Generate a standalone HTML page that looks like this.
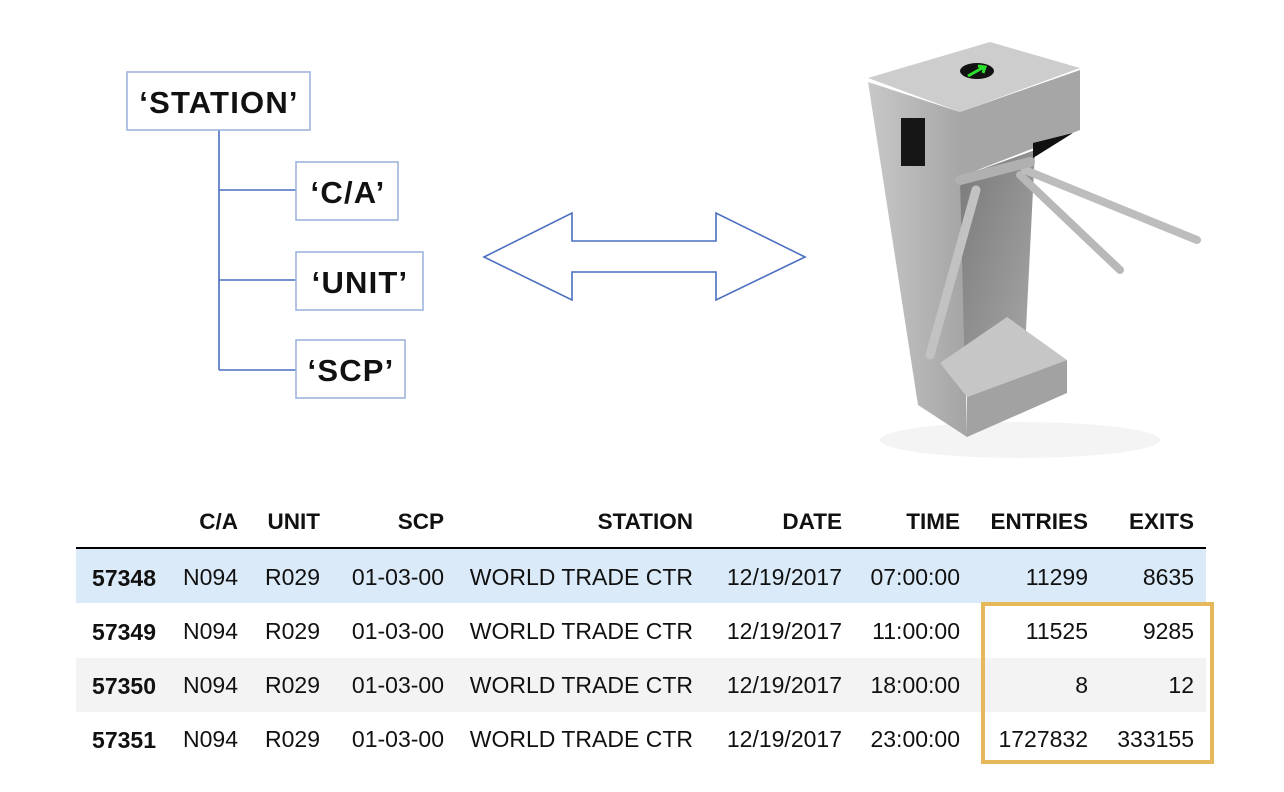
<!DOCTYPE html>
<html><head><meta charset="utf-8"><style>
body{margin:0;width:1284px;height:792px;background:#fff;position:relative;overflow:hidden;font-family:"Liberation Sans",Arial,sans-serif}
</style></head><body>
<svg width="1284" height="792" style="position:absolute;left:0;top:0">
<defs>
<linearGradient id="lf" x1="0" y1="0" x2="1" y2="0"><stop offset="0" stop-color="#c8c8c8"/><stop offset="1" stop-color="#a4a4a4"/></linearGradient>
<linearGradient id="ib" x1="0" y1="0" x2="1" y2="1"><stop offset="0" stop-color="#7a7a7a"/><stop offset="1" stop-color="#a8a8a8"/></linearGradient>
</defs>
<g stroke="#4a6fc0" stroke-width="1.6" fill="none">
<line x1="219" y1="130" x2="219" y2="370"/>
<line x1="219" y1="190" x2="296" y2="190"/>
<line x1="219" y1="280" x2="296" y2="280"/>
<line x1="219" y1="370" x2="296" y2="370"/>
</g>
<g stroke="#9fb4dc" stroke-width="1.6" fill="#fff">
<rect x="127" y="72" width="183" height="58"/>
<rect x="296" y="162" width="102" height="58"/>
<rect x="296" y="252" width="127" height="58"/>
<rect x="296" y="340" width="109" height="58"/>
</g>
<g font-family="Liberation Sans, sans-serif" font-weight="bold" font-size="31" fill="#111" letter-spacing="1.2">
<text x="219" y="113" text-anchor="middle">‘STATION’</text>
<text x="348" y="203" text-anchor="middle">‘C/A’</text>
<text x="360" y="293" text-anchor="middle">‘UNIT’</text>
<text x="351" y="381" text-anchor="middle">‘SCP’</text>
</g>
<polygon points="484,257 572,213 572,241 716,241 716,213 805,257 716,300 716,272 572,272 572,300" fill="#fff" stroke="#4a6fc0" stroke-width="1.6"/>
<ellipse cx="1020" cy="440" rx="140" ry="18" fill="#f4f4f4"/>
<polygon points="868,82 960,112 967,437 918,405" fill="url(#lf)"/>
<polygon points="960,177 1035,150 1025,350 965,380" fill="url(#ib)"/>
<polygon points="940,363 1007,317 1067,360 967,397" fill="#c6c6c6"/>
<polygon points="967,397 1067,360 1067,393 967,437" fill="#a2a2a2"/>
<polygon points="868,78 990,42 1080,68 960,112" fill="#cdcdcd"/>
<polygon points="960,112 1080,70 1080,130 960,177" fill="#a6a6a6"/>
<polygon points="1033,143 1073,133 1033,158" fill="#111"/>
<ellipse cx="977" cy="71" rx="17" ry="8" fill="#111"/>
<path d="M968 76 L984 67 M978 66 L985 67 L983 73" stroke="#2ee02e" stroke-width="3" fill="none"/>
<rect x="901" y="118" width="24" height="48" fill="#161616"/>
<g stroke-linecap="round" fill="none">
<line x1="1020" y1="175" x2="1120" y2="270" stroke="#b8b8b8" stroke-width="8"/>
<line x1="1025" y1="170" x2="1197" y2="240" stroke="#bdbdbd" stroke-width="8"/>
<line x1="976" y1="190" x2="930" y2="355" stroke="#c2c2c2" stroke-width="9"/>
<line x1="960" y1="180" x2="1030" y2="162" stroke="#b0b0b0" stroke-width="10"/>
</g>
<rect x="76" y="549" width="1130" height="54" fill="#dbeaf8"/>
<rect x="76" y="658" width="1130" height="54" fill="#f3f3f3"/>
<line x1="76" y1="548" x2="1206" y2="548" stroke="#000" stroke-width="2"/>
<rect x="983" y="604" width="229" height="158" fill="none" stroke="#e6b85c" stroke-width="4"/>
<g font-family="Liberation Sans, sans-serif" font-size="23" fill="#111" text-anchor="end">
<g font-weight="bold" font-size="22.5"><text x="238" y="529">C/A</text><text x="320" y="529">UNIT</text><text x="444" y="529">SCP</text><text x="693" y="529">STATION</text><text x="842" y="529">DATE</text><text x="960" y="529">TIME</text><text x="1088" y="529">ENTRIES</text><text x="1194" y="529">EXITS</text></g>
<g><text x="156" y="586" font-weight="bold">57348</text><text x="238" y="585">N094</text><text x="320" y="585">R029</text><text x="444" y="585">01-03-00</text><text x="693" y="585">WORLD TRADE CTR</text><text x="842" y="585">12/19/2017</text><text x="960" y="585">07:00:00</text><text x="1088" y="585">11299</text><text x="1194" y="585">8635</text></g>
<g><text x="156" y="640" font-weight="bold">57349</text><text x="238" y="639">N094</text><text x="320" y="639">R029</text><text x="444" y="639">01-03-00</text><text x="693" y="639">WORLD TRADE CTR</text><text x="842" y="639">12/19/2017</text><text x="960" y="639">11:00:00</text><text x="1088" y="639">11525</text><text x="1194" y="639">9285</text></g>
<g><text x="156" y="694" font-weight="bold">57350</text><text x="238" y="693">N094</text><text x="320" y="693">R029</text><text x="444" y="693">01-03-00</text><text x="693" y="693">WORLD TRADE CTR</text><text x="842" y="693">12/19/2017</text><text x="960" y="693">18:00:00</text><text x="1088" y="693">8</text><text x="1194" y="693">12</text></g>
<g><text x="156" y="748" font-weight="bold">57351</text><text x="238" y="747">N094</text><text x="320" y="747">R029</text><text x="444" y="747">01-03-00</text><text x="693" y="747">WORLD TRADE CTR</text><text x="842" y="747">12/19/2017</text><text x="960" y="747">23:00:00</text><text x="1088" y="747">1727832</text><text x="1194" y="747">333155</text></g>
</g>
</svg>
</body></html>
